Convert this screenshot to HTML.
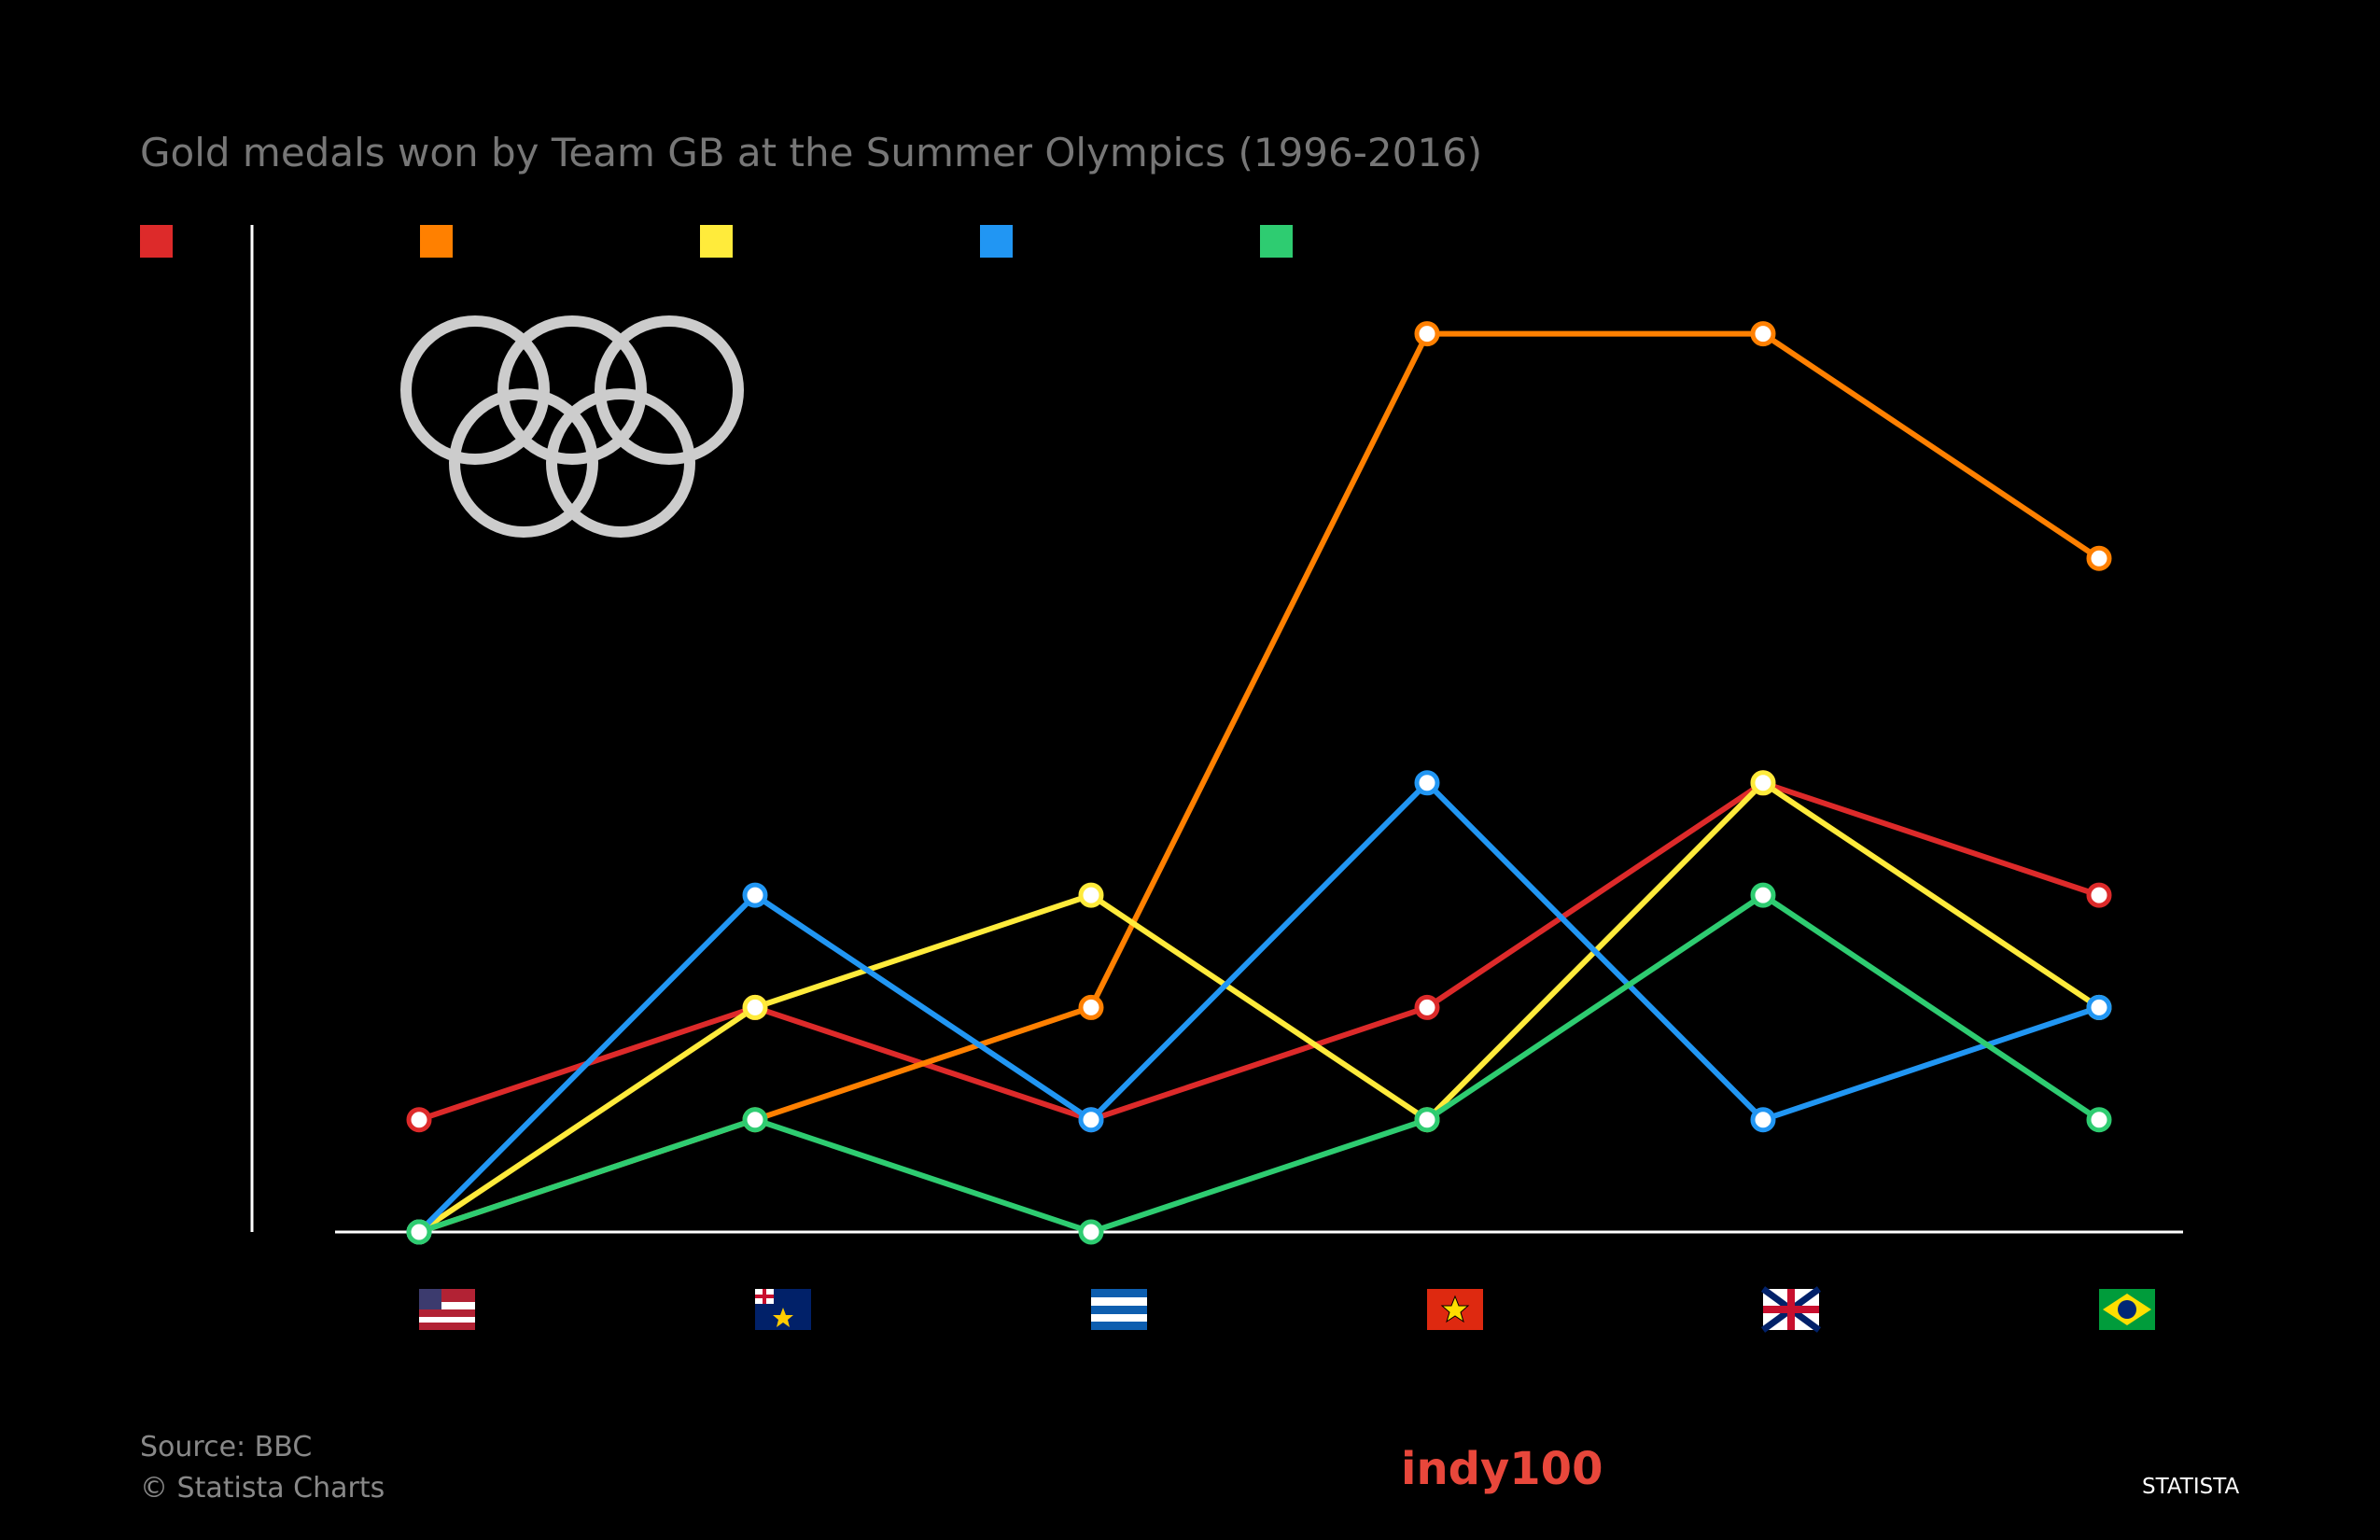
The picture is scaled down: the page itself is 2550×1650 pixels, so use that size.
<!DOCTYPE html>
<html><head><meta charset="utf-8"><style>
html,body{margin:0;padding:0;background:#000;}
svg{display:block;font-family:"Liberation Sans","DejaVu Sans",sans-serif;}
</style></head><body>
<svg id="chart" width="2550" height="1650" viewBox="0 0 2550 1650">
<rect width="2550" height="1650" fill="#000"/>
<text x="150" y="178" font-size="42" fill="#777" font-family="DejaVu Sans, sans-serif">Gold medals won by Team GB at the Summer Olympics (1996-2016)</text>
<g id="legend"></g>
<line x1="270" y1="241" x2="270" y2="1320" stroke="#fff" stroke-width="3"/>
<line x1="359" y1="1320" x2="2339" y2="1320" stroke="#fff" stroke-width="3"/>
<g fill="none" stroke="#ccc" stroke-width="12">
<circle cx="509" cy="418" r="74"/><circle cx="613" cy="418" r="74"/><circle cx="717" cy="418" r="74"/>
<circle cx="561" cy="496" r="74"/><circle cx="665" cy="496" r="74"/>
</g>
<g id="series"></g>
<g id="flags"></g>
<text x="150" y="1560" font-size="30" fill="#888" font-family="DejaVu Sans, sans-serif">Source: BBC</text>
<text x="150" y="1604" font-size="30" fill="#888" font-family="DejaVu Sans, sans-serif">© Statista Charts</text>
<text x="1501" y="1590" font-size="48" font-weight="bold" fill="#e8473b" font-family="DejaVu Sans, sans-serif">indy100</text>
<text x="2295" y="1600" font-size="23" fill="#fff" font-family="DejaVu Sans, sans-serif">STATISTA</text>
</svg>
<script>
const years = ["1996","2000","2004","2008","2012","2016"];
const redValues = [1,2,1,2,4,3];
const orangeValues = [0,1,2,8,8,6];
const yellowValues = [0,2,3,1,4,2];
const blueValues = [0,3,1,4,1,2];
const greenValues = [0,1,0,1,3,1];
const seriesColors = ["#dd2a2a","#ff8000","#ffeb3b","#2196f3","#2ecc71"];
const seriesNames = ["red","orange","yellow","blue","green"];
const NS="http://www.w3.org/2000/svg";
function xPos(i){return 449+i*360;}
function yPos(v){return 1320-v*120.3;}
const allSeries=[redValues,orangeValues,yellowValues,blueValues,greenValues];
const leg=document.getElementById('legend');
seriesColors.forEach((c,k)=>{
  const r=document.createElementNS(NS,'rect');
  r.setAttribute('x',150+k*300);r.setAttribute('y',241);r.setAttribute('width',35);r.setAttribute('height',35);r.setAttribute('fill',c);
  
  
  leg.appendChild(r);
});
const g=document.getElementById('series');
allSeries.forEach((vals,k)=>{
  const p=document.createElementNS(NS,'polyline');
  p.setAttribute('points',vals.map((v,i)=>xPos(i)+','+yPos(v)).join(' '));
  p.setAttribute('fill','none');p.setAttribute('stroke',seriesColors[k]);p.setAttribute('stroke-width',6);
  
  
  g.appendChild(p);
});
allSeries.forEach((vals,k)=>{
  vals.forEach((v,i)=>{
    const c=document.createElementNS(NS,'circle');
    c.setAttribute('cx',xPos(i));c.setAttribute('cy',yPos(v));c.setAttribute('r',11);
    c.setAttribute('fill','#fff');c.setAttribute('stroke',seriesColors[k]);c.setAttribute('stroke-width',5);
    
    
    g.appendChild(c);
  });
});
const flagSvgs=[
 '<rect width="60" height="44" fill="#b22234"/><rect y="14" width="60" height="8" fill="#fff"/><rect y="30" width="60" height="6" fill="#fff"/><rect width="24" height="22" fill="#3c3b6e"/>',
 '<rect width="60" height="44" fill="#012169"/><rect width="20" height="16" fill="#fff"/><rect x="8" width="4" height="16" fill="#c8102e"/><rect y="6" width="20" height="4" fill="#c8102e"/><polygon points="30,20 33,28 41,28 35,33 37,41 30,36 23,41 25,33 19,28 27,28" fill="#ffcc00"/>',
 '<rect width="60" height="44" fill="#fff"/><rect width="60" height="9" fill="#0d5eaf"/><rect y="18" width="60" height="9" fill="#0d5eaf"/><rect y="35" width="60" height="9" fill="#0d5eaf"/>',
 '<rect width="60" height="44" fill="#de2910"/><polygon points="30,8 34,18 44,18 36,25 39,35 30,29 21,35 24,25 16,18 26,18" fill="#ffde00" stroke="#000" stroke-width="1"/>',
 '<rect width="60" height="44" fill="#fff"/><line x1="0" y1="0" x2="60" y2="44" stroke="#012169" stroke-width="7"/><line x1="60" y1="0" x2="0" y2="44" stroke="#012169" stroke-width="7"/><rect x="26" width="8" height="44" fill="#c8102e"/><rect y="18" width="60" height="8" fill="#c8102e"/>',
 '<rect width="60" height="44" fill="#009c3b"/><polygon points="30,5 56,22 30,39 4,22" fill="#ffdf00"/><circle cx="30" cy="22" r="10" fill="#002776"/>'
];
const fg=document.getElementById('flags');
years.forEach((y,i)=>{
  const gg=document.createElementNS(NS,'g');
  gg.setAttribute('transform','translate('+(xPos(i))+',1381)');
  gg.innerHTML=flagSvgs[i];
  
  
  fg.appendChild(gg);
});
</script>
</body></html>
